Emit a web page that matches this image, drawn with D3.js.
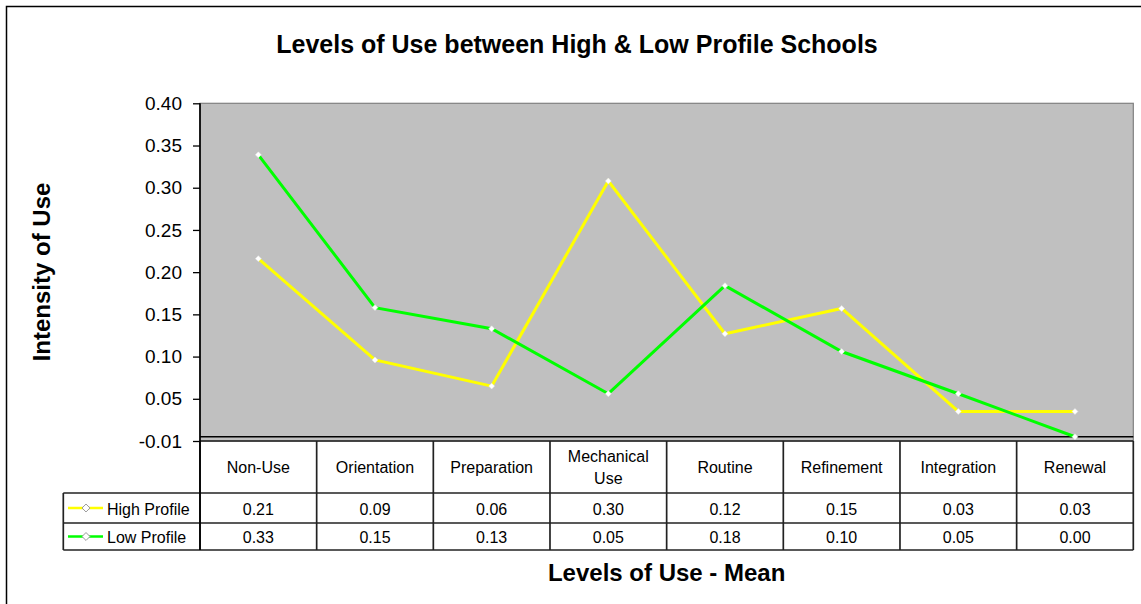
<!DOCTYPE html>
<html>
<head>
<meta charset="utf-8">
<script src="https://cdn.jsdelivr.net/npm/d3@7"></script>
<style>
  html, body { margin: 0; padding: 0; background: #fff; }
  svg { display: block; font-family: "Liberation Sans", Arial, sans-serif; }
</style>
</head>
<body>
<svg id="chart" width="1141" height="604"></svg>
<script>
// ---- data ----
const categories = ["Non-Use", "Orientation", "Preparation", "Mechanical Use", "Routine", "Refinement", "Integration", "Renewal"];
const highProfile = [0.211, 0.091, 0.060, 0.303, 0.122, 0.152, 0.030, 0.030];
const lowProfile  = [0.334, 0.153, 0.128, 0.051, 0.179, 0.101, 0.051, 0.000];
const seriesNames = ["High Profile", "Low Profile"];
const yTickValues = [-0.005, 0.045, 0.095, 0.145, 0.195, 0.245, 0.295, 0.345, 0.395];
const yTickLabels = ["-0.01", "0.05", "0.10", "0.15", "0.20", "0.25", "0.30", "0.35", "0.40"];

const series = [
  { name: seriesNames[0], values: highProfile, color: "#FFFF00" },
  { name: seriesNames[1], values: lowProfile,  color: "#00FF00" }
];

const svg = d3.select("#chart");
const plot = { left: 200, right: 1133.3, top: 103.3, bottom: 441 };
const rowH = { header: 52, r1: 30, r2: 27 };

const x = d3.scaleBand().domain(categories).range([plot.left, plot.right]).padding(0);
const y = d3.scaleLinear().domain([-0.005, 0.395]).range([plot.bottom, plot.top]);

// outer border
svg.append("rect").attr("x", 6.5).attr("y", 6.5).attr("width", 1160).attr("height", 640)
  .attr("fill", "#fff").attr("stroke", "#000").attr("stroke-width", 1.5);

// title
svg.append("text").attr("x", 577).attr("y", 53).attr("text-anchor", "middle")
  .attr("font-size", 25).attr("font-weight", "bold").attr("fill", "#000")
  .text("Levels of Use between High & Low Profile Schools");

// plot area
svg.append("rect").attr("x", plot.left).attr("y", plot.top)
  .attr("width", plot.right - plot.left).attr("height", plot.bottom - plot.top)
  .attr("fill", "#C0C0C0").attr("stroke", "#808080").attr("stroke-width", 1.2);

// y axis
const yAxis = d3.axisLeft(y).tickValues(yTickValues)
  .tickFormat((d, i) => yTickLabels[i]).tickSizeInner(7).tickSizeOuter(0).tickPadding(11);
const gy = svg.append("g").attr("transform", `translate(${plot.left},0)`).call(yAxis);
gy.select(".domain").remove();
gy.selectAll(".tick line").attr("stroke", "#000").attr("stroke-width", 1.3);
gy.selectAll(".tick text").attr("font-size", 19).attr("fill", "#000")
  .attr("font-family", "Liberation Sans, Arial, sans-serif");

// category axis line at zero
svg.append("line").attr("x1", plot.left).attr("x2", plot.right)
  .attr("y1", y(0)).attr("y2", y(0)).attr("stroke", "#000").attr("stroke-width", 1.5);

// y axis title
svg.append("text").attr("transform", "translate(50,272) rotate(-90)")
  .attr("text-anchor", "middle").attr("font-size", 24).attr("font-weight", "bold")
  .text("Intensity of Use");

// lines
const line = d3.line().x((d, i) => x(categories[i]) + x.bandwidth() / 2).y(d => y(d));
series.forEach(s => {
  svg.append("path").datum(s.values).attr("d", line)
    .attr("fill", "none").attr("stroke", s.color).attr("stroke-width", 3)
    .attr("stroke-linejoin", "miter");
});
const diamond = d3.symbol().type(d3.symbolDiamond2).size(22);
series.forEach(s => {
  svg.append("g").selectAll("path").data(s.values).join("path")
    .attr("transform", (d, i) => `translate(${x(categories[i]) + x.bandwidth() / 2},${y(d)})`)
    .attr("d", diamond).attr("fill", "#fff").attr("stroke", "#e8e8e8").attr("stroke-width", 0.5);
});

// data table
const tTop = plot.bottom;
const r1Top = tTop + rowH.header;
const r2Top = r1Top + rowH.r1;
const tBottom = r2Top + rowH.r2;
const legLeft = 63.3;
const tbl = svg.append("g").attr("stroke", "#222").attr("stroke-width", 1.7);

// horizontal lines
tbl.append("line").attr("x1", plot.left).attr("x2", plot.right).attr("y1", tTop).attr("y2", tTop);
[r1Top, r2Top, tBottom].forEach(yy => {
  tbl.append("line").attr("x1", legLeft).attr("x2", plot.right).attr("y1", yy).attr("y2", yy);
});
// vertical lines
categories.forEach(c => {
  tbl.append("line").attr("x1", x(c)).attr("x2", x(c)).attr("y1", tTop).attr("y2", tBottom);
});
tbl.append("line").attr("x1", plot.left).attr("x2", plot.left).attr("y1", plot.top).attr("y2", tBottom)
  .attr("stroke", "#000");
tbl.append("line").attr("x1", plot.right).attr("x2", plot.right).attr("y1", tTop).attr("y2", tBottom);
tbl.append("line").attr("x1", legLeft).attr("x2", legLeft).attr("y1", r1Top).attr("y2", tBottom);

// header labels
const hdr = svg.append("g").attr("font-size", 16).attr("fill", "#000").attr("text-anchor", "middle");
categories.forEach(c => {
  const cx = x(c) + x.bandwidth() / 2;
  const words = c === "Mechanical Use" ? ["Mechanical", "Use"] : [c];
  const cy = tTop + rowH.header / 2;
  words.forEach((w, i) => {
    hdr.append("text").attr("x", cx)
      .attr("y", cy + (i - (words.length - 1) / 2) * 22)
      .attr("dy", "0.36em").text(w);
  });
});

// value rows
const fmt = d3.format(".2f");
const rowTops = [r1Top, r2Top];
const rowHeights = [rowH.r1, rowH.r2];
series.forEach((s, si) => {
  const cy = rowTops[si] + rowHeights[si] / 2 + 1;
  s.values.forEach((v, i) => {
    hdr.append("text").attr("x", x(categories[i]) + x.bandwidth() / 2).attr("y", cy)
      .attr("dy", "0.36em").text(fmt(v));
  });
  // legend key
  svg.append("line").attr("x1", 68).attr("x2", 103).attr("y1", cy - 1).attr("y2", cy - 1)
    .attr("stroke", s.color).attr("stroke-width", 2.5);
  svg.append("path").attr("transform", `translate(86,${cy - 1})`)
    .attr("d", d3.symbol().type(d3.symbolDiamond2).size(40))
    .attr("fill", "#fff").attr("stroke", "#999").attr("stroke-width", 1);
  svg.append("text").attr("x", 107).attr("y", cy).attr("dy", "0.36em")
    .attr("font-size", 16).attr("fill", "#000").text(s.name);
});

// x axis title
svg.append("text").attr("x", (plot.left + plot.right) / 2).attr("y", 581)
  .attr("text-anchor", "middle").attr("font-size", 24).attr("font-weight", "bold")
  .text("Levels of Use - Mean");
</script>
</body>
</html>
